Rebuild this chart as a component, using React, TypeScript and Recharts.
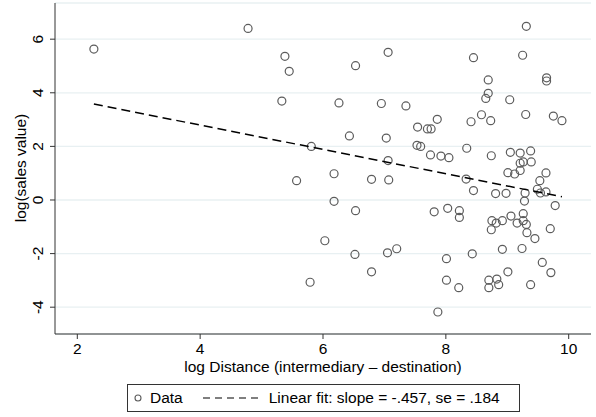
import React from 'react';
import { ScatterChart, Scatter, XAxis, YAxis, CartesianGrid } from 'recharts';

// log distance (x) and log sales value (y)
const distX = [
  2.27, 4.78, 5.38, 5.45, 5.33, 5.57, 9.31, 7.06, 6.53, 8.45, 9.25, 8.69, 9.64, 9.64, 8.69, 8.65,
  6.26, 6.95, 7.35, 9.04, 9.30, 9.75, 9.89, 8.58, 8.41, 8.73, 7.86, 7.54, 7.70, 7.76, 6.43, 7.03,
  5.81, 7.53, 7.59, 7.75, 7.92, 8.05, 8.34, 8.74, 9.05, 9.21, 9.38, 9.21, 9.26, 9.39, 9.21, 9.01,
  9.12, 9.63, 7.06, 6.18, 6.79, 7.07, 8.33, 9.53, 9.49, 9.54, 9.63, 8.45, 8.81, 8.98, 9.29, 9.28,
  9.78, 6.18, 6.53, 7.81, 8.03, 8.22, 8.22, 8.75, 8.82, 8.92, 9.06, 9.26, 9.26, 9.16, 9.31, 9.32,
  8.74, 9.45, 9.70, 6.03, 6.52, 7.05, 7.20, 8.01, 8.43, 8.92, 9.24, 9.57, 9.71, 9.01, 6.79, 5.79,
  8.01, 8.21, 8.70, 8.83, 8.70, 8.86, 9.38, 7.87,
];
const salesY = [
  5.63, 6.40, 5.36, 4.80, 3.69, 0.72, 6.48, 5.51, 5.01, 5.31, 5.40, 4.48, 4.56, 4.44, 3.98, 3.79,
  3.62, 3.60, 3.51, 3.74, 3.19, 3.13, 2.96, 3.18, 2.92, 2.96, 3.01, 2.72, 2.65, 2.65, 2.39, 2.31,
  2.00, 2.04, 2.00, 1.68, 1.64, 1.58, 1.93, 1.65, 1.78, 1.75, 1.83, 1.37, 1.42, 1.42, 1.10, 1.02,
  0.97, 1.01, 1.47, 0.98, 0.77, 0.75, 0.78, 0.72, 0.40, 0.26, 0.30, 0.35, 0.24, 0.25, 0.26, -0.04,
  -0.21, -0.05, -0.40, -0.44, -0.31, -0.40, -0.65, -0.77, -0.86, -0.77, -0.60, -0.51, -0.77, -0.86, -0.91, -1.22,
  -1.11, -1.44, -1.07, -1.52, -2.03, -1.97, -1.82, -2.19, -2.01, -1.84, -1.81, -2.33, -2.71, -2.68, -2.68, -3.07,
  -2.99, -3.27, -2.99, -2.95, -3.27, -3.16, -3.16, -4.18,
];

// fitted line endpoints (slope -.457)
const fitX = [2.27, 9.89];
const fitY = [3.58, 0.12];

const xTicks = [2, 4, 6, 8, 10];
const yTicks = [-4, -2, 0, 2, 4, 6];

const points = distX.map((x, i) => ({ x, y: salesY[i] }));
const fitLine = fitX.map((x, i) => ({ x, y: fitY[i] }));

const FONT = '"Liberation Sans", Arial, Helvetica, sans-serif';
const FS = 15.5;
const AXIS = '#333';

const Hollow = (p: any) => (
  <circle cx={p.cx} cy={p.cy} r={4} fill="none" stroke="#5c5c5c" strokeWidth={1.2} />
);

const YTick = (p: any) => {
  const x = p.x - 5;
  return (
    <text
      x={x}
      y={p.y}
      transform={`rotate(-90 ${x} ${p.y})`}
      textAnchor="middle"
      fontSize={FS}
      fontFamily={FONT}
      fill="#000"
    >
      {p.payload.value}
    </text>
  );
};

export default function App() {
  return (
    <div style={{ position: 'absolute', left: 0, top: 0, width: 596, height: 417, background: '#fff', fontFamily: FONT }}>
      <ScatterChart width={596} height={417} margin={{ top: 3, right: 5, bottom: 0, left: 0 }}>
        <CartesianGrid horizontal vertical={false} stroke="#e8f0f2" strokeWidth={1.3} />
        <XAxis
          type="number"
          dataKey="x"
          domain={[1.637, 10.363]}
          ticks={xTicks}
          allowDataOverflow
          height={83}
          tickSize={5}
          tickMargin={4}
          stroke={AXIS}
          tick={{ fontSize: FS, fill: '#000', fontFamily: FONT }}
        />
        <YAxis
          type="number"
          dataKey="y"
          domain={[-5, 7.35]}
          ticks={yTicks}
          allowDataOverflow
          width={55}
          tickSize={5}
          stroke={AXIS}
          tick={<YTick />}
        />
        <Scatter data={points} shape={Hollow} isAnimationActive={false} legendType="none" />
        <Scatter
          data={fitLine}
          line={{ stroke: '#000', strokeWidth: 1.5, strokeDasharray: '9 5' }}
          shape={() => <g />}
          isAnimationActive={false}
          legendType="none"
        />
      </ScatterChart>

      {/* axis titles */}
      <div style={{ position: 'absolute', left: 55, width: 536, top: 357, textAlign: 'center', fontSize: FS, lineHeight: '19px' }}>
        log Distance (intermediary – destination)
      </div>
      <div
        style={{
          position: 'absolute',
          left: 20,
          top: 168,
          transform: 'translate(-50%, -50%) rotate(-90deg)',
          whiteSpace: 'nowrap',
          fontSize: FS,
          lineHeight: '19px',
        }}
      >
        log(sales value)
      </div>

      {/* legend */}
      <div
        style={{
          position: 'absolute',
          left: 127,
          top: 384,
          width: 391,
          height: 26,
          border: '1px solid #333',
          display: 'flex',
          alignItems: 'center',
          fontSize: FS,
        }}
      >
        <svg width={14} height={14} style={{ marginLeft: 3 }}>
          <circle cx={7} cy={7} r={3} fill="none" stroke="#5c5c5c" strokeWidth={1.1} />
        </svg>
        <span style={{ marginLeft: 5 }}>Data</span>
        <svg width={60} height={10} style={{ marginLeft: 20 }}>
          <line x1={0} y1={5} x2={58} y2={5} stroke="#000" strokeWidth={1.2} strokeDasharray="7 5" />
        </svg>
        <span style={{ marginLeft: 6 }}>Linear fit: slope = -.457, se = .184</span>
      </div>
    </div>
  );
}
